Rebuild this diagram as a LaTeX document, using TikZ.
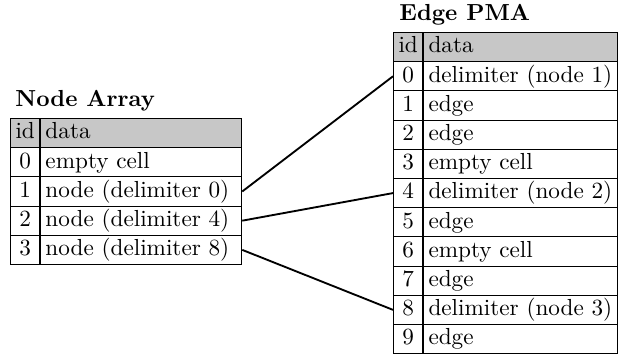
\documentclass[tikz,border=0pt]{standalone}
\usetikzlibrary{calc}
\tikzset{
  cell/.style={draw, line width=0.4pt, rectangle, anchor=north west, inner sep=0pt,
    minimum height=12.6pt, text height=7pt, text depth=2pt},
  idcell/.style={cell, minimum width=12.7pt},
  datacell/.style={cell, text width=#1, align=left, inner xsep=2pt},
  headcell/.style={fill=black!22},
  title/.style={anchor=base west, font=\bfseries, inner sep=0pt},
  link/.style={line width=0.8pt}
}
\begin{document}
\begin{tikzpicture}[x=0.431pt, y=-0.431pt]
\useasboundingbox (0,0) rectangle (619,356);
% node array
\node[title] (na-title) at (15,107) {Node Array};
\node[idcell, headcell] (na-id-h) at (10,118) {id};
\node[datacell=82.6pt, headcell] (na-h) at (na-id-h.north east) {data};
\foreach \i/\txt in {0/empty cell, 1/node (delimiter 0), 2/node (delimiter 4), 3/node (delimiter 8)}{
  \node[idcell] (na-id-\i) at (10,{118+29.2*(\i+1)}) {\i};
  \node[datacell=82.6pt] (na-\i) at (na-id-\i.north east) {\txt};
}
% edge pma
\node[title] (ep-title) at (399,21) {Edge PMA};
\node[idcell, headcell] (ep-id-h) at (393,32) {id};
\node[datacell=79.6pt, headcell] (ep-h) at (ep-id-h.north east) {data};
\foreach \i/\txt in {0/delimiter (node 1), 1/edge, 2/edge, 3/empty cell, 4/delimiter (node 2),
    5/edge, 6/empty cell, 7/edge, 8/delimiter (node 3), 9/edge}{
  \node[idcell] (ep-id-\i) at (393,{32+29.2*(\i+1)}) {\i};
  \node[datacell=79.6pt] (ep-\i) at (ep-id-\i.north east) {\txt};
}
% links
\draw[link] (na-1.east) -- (ep-id-0.west);
\draw[link] (na-2.east) -- (ep-id-4.west);
\draw[link] (na-3.east) -- (ep-id-8.west);
\end{tikzpicture}
\end{document}
